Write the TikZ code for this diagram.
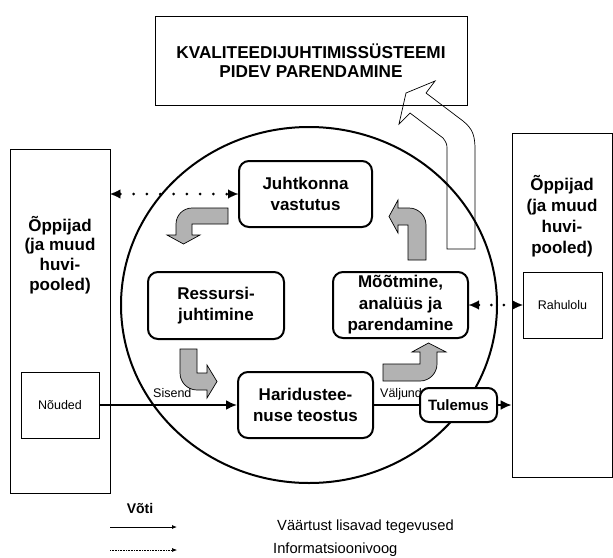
\documentclass[tikz,border=0pt]{standalone}
\usepackage{fontspec}
\setmainfont{Liberation Sans}
\usetikzlibrary{arrows.meta}
\newcommand{\bxfont}{\fontsize{17}{21.5}\selectfont\bfseries}
\newcommand{\sdfont}{\fontsize{17}{19.7}\selectfont\bfseries}
\newcommand{\sdRfont}{\fontsize{17}{21}\selectfont\bfseries}
\newcommand{\tpfont}{\fontsize{17.2}{18.7}\selectfont\bfseries}
\newcommand{\smfont}{\fontsize{12.5}{14}\selectfont}
\newcommand{\kyfont}{\fontsize{14.7}{17}\selectfont}
\begin{document}
\begin{tikzpicture}[x=1pt,y=-1pt,
  plainbox/.style={draw=black, line width=0.8pt, fill=white, inner sep=0pt},
  stagebox/.style={draw=black, line width=2pt, rounded corners=10pt, fill=white, inner sep=0pt, align=center, font=\bxfont},
  garrow/.style={fill=black!30, draw=black, line width=0.7pt, line join=miter},
  openarrow/.style={draw=black, line width=0.7pt},
  flow/.style={line width=2pt, -{Latex[length=11pt,width=10pt]}},
  flowplain/.style={line width=2pt},
  infoA/.style={line width=3pt, line cap=round, dash pattern=on 0pt off 13.3pt, {Latex[length=10pt,width=9pt,line width=0.1pt]}-{Latex[length=10pt,width=9pt,line width=0.1pt]}},
  infoB/.style={line width=3pt, line cap=round, dash pattern=on 0pt off 12.5pt, {Latex[length=10pt,width=9pt,line width=0.1pt]}-{Latex[length=10pt,width=9pt,line width=0.1pt]}},
  keyarrow/.style={line width=0.8pt, -{Latex[length=5pt,width=4pt]}},
  keydots/.style={line width=0.6pt, dash pattern=on 1pt off 0.6pt, -{Latex[length=5pt,width=4pt]}},
  lbl/.style={inner sep=0pt, font=\smfont}
]
\useasboundingbox (0,0) rectangle (613,557);
\fill[white] (0,0) rectangle (613,557);

% big circle
\draw[line width=2pt] (309,305) ellipse [x radius=188, y radius=178];

% top box
\node[plainbox, minimum width=312pt, minimum height=89pt, align=center, font=\tpfont] (top) at (311,60.5) {KVALITEEDIJUHTIMISSÜSTEEMI\\PIDEV PARENDAMINE};

% open bent arrow to the top box
\draw[openarrow] (447,249) -- (447,148) .. controls (447,144) and (446,142) .. (443,138) -- (410,113) -- (399,124) -- (406,93) -- (435,81) -- (426,93) -- (463,121) .. controls (473,129) and (475,136) .. (475,150) -- (475,249) -- cycle;

% side boxes
\node[plainbox, minimum width=100pt, minimum height=344pt] (lbox) at (60,321) {};
\node[inner sep=0pt, align=center, font=\sdfont] (ltxt) at (60,255) {Õppijad\\(ja muud\\huvi-\\pooled)};
\node[plainbox, minimum width=78pt, minimum height=66pt, font=\smfont] (nouded) at (60,405) {Nõuded};

\node[plainbox, minimum width=100pt, minimum height=344pt] (rbox) at (562,305) {};
\node[inner sep=0pt, align=center, font=\sdRfont] (rtxt) at (562,216) {Õppijad\\(ja muud\\huvi-\\pooled)};
\node[plainbox, minimum width=79pt, minimum height=66pt, font=\smfont] (rahul) at (562.5,305) {Rahulolu};

% grey process arrows
\draw[garrow] (228,224) -- (228,208) -- (192,208) .. controls (183.2,208) and (176,215.2) .. (176,224) -- (176,235) -- (167,235) -- (183.5,244) -- (200,235) -- (192,235) -- (192,224) -- cycle;
\draw[garrow] (180,349) -- (197,349) -- (197,373) -- (207,373) -- (207,365) -- (217,381.5) -- (207,398) -- (207,390) -- (197,390) .. controls (187.65,390) and (180,382.35) .. (180,373) -- cycle;
\draw[garrow] (383,364) -- (420,364) -- (420,352) -- (412,352) -- (428.5,343) -- (446,352) -- (437,352) -- (437,364) .. controls (437,373.35) and (429.35,381) .. (420,381) -- (383,381) -- cycle;
\draw[garrow] (408,260) -- (408,225) -- (398,225) -- (398,233) -- (389,216.5) -- (398,200) -- (398,208) -- (409,208) .. controls (418.35,208) and (426,215.65) .. (426,225) -- (426,260) -- cycle;

% labels on the main line
\node[lbl, anchor=west] (sisend) at (153,393) {Sisend};
\node[lbl, anchor=west] (valjund) at (380,394) {Väljund};

% stage boxes
\node[stagebox, minimum width=133pt, minimum height=66pt] (juht) at (305.5,194) {Juhtkonna\\vastutus};
\node[stagebox, minimum width=136pt, minimum height=67pt] (ress) at (216,305.5) {Ressursi-\\juhtimine};
\node[stagebox, minimum width=135pt, minimum height=66pt] (moot) at (400.5,305) {Mõõtmine,\\analüüs ja\\parendamine};
\node[stagebox, minimum width=135pt, minimum height=66pt] (harid) at (305.5,405) {Haridustee-\\nuse teostus};
\node[stagebox, rounded corners=9pt, minimum width=77pt, minimum height=34pt, font=\fontsize{15}{17}\selectfont\bfseries] (tulem) at (458.5,405) {Tulemus};

% connectors
\draw[flow] (nouded.east) -- (harid.west);
\draw[flowplain] (harid.east) -- (tulem.west);
\draw[flow] (tulem.east) -- (tulem.east -| rbox.west);
\draw[infoA] (juht.west -| lbox.east) -- (juht.west);
\draw[infoB] (moot.east) -- (rahul.west);

% key
\node[inner sep=0pt, font=\fontsize{14}{16}\selectfont\bfseries] (voti) at (140,508) {Võti};
\coordinate (k1a) at (110,527);
\coordinate (k1b) at (177,527);
\coordinate (k2a) at (110,550);
\coordinate (k2b) at (177,550);
\draw[keyarrow] (k1a) -- (k1b);
\draw[keydots] (k2a) -- (k2b);
\node[inner sep=0pt, anchor=west, font=\kyfont] (k1t) at (277,527) {Väärtust lisavad tegevused};
\node[inner sep=0pt, anchor=west, font=\kyfont] (k2t) at (273,550) {Informatsioonivoog};
\end{tikzpicture}
\end{document}
